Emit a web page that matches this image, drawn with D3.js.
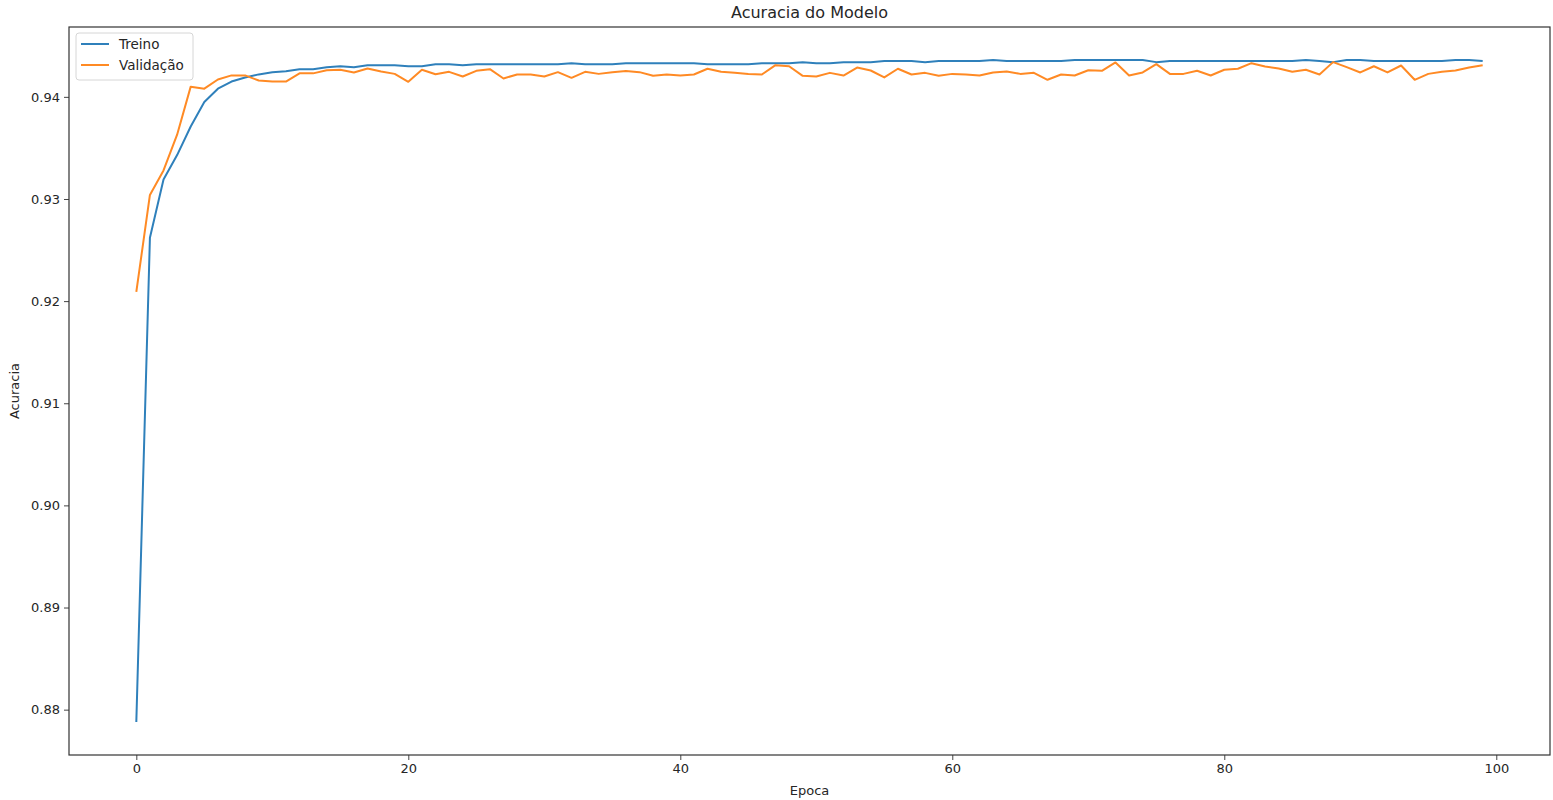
<!DOCTYPE html>
<html>
<head>
<meta charset="utf-8">
<script src="https://cdn.jsdelivr.net/npm/d3@7"></script>
<style>
    body { margin: 0; background: #fff; }
    text { font-family: "DejaVu Sans", sans-serif; fill: #262626; }
</style>
</head>
<body>
<div id="chart"></div>
<script>
// accuracy per epoch
const treino = [
    0.8788, 0.9262, 0.9319, 0.9343, 0.9371, 0.9395, 0.9408, 0.9415, 0.9419, 0.9422,
    0.9424, 0.9425, 0.9427, 0.9427, 0.9429, 0.9430, 0.9429, 0.9431, 0.9431, 0.9431,
    0.9430, 0.9430, 0.9432, 0.9432, 0.9431, 0.9432, 0.9432, 0.9432, 0.9432, 0.9432,
    0.9432, 0.9432, 0.9433, 0.9432, 0.9432, 0.9432, 0.9433, 0.9433, 0.9433, 0.9433,
    0.9433, 0.9433, 0.9432, 0.9432, 0.9432, 0.9432, 0.9433, 0.9433, 0.9433, 0.9434,
    0.9433, 0.9433, 0.9434, 0.9434, 0.9434, 0.9435, 0.9435, 0.9435, 0.9434, 0.9435,
    0.9435, 0.9435, 0.9435, 0.9436, 0.9435, 0.9435, 0.9435, 0.9435, 0.9435, 0.9436,
    0.9436, 0.9436, 0.9436, 0.9436, 0.9436, 0.9434, 0.9435, 0.9435, 0.9435, 0.9435,
    0.9435, 0.9435, 0.9435, 0.9435, 0.9435, 0.9435, 0.9436, 0.9435, 0.9434, 0.9436,
    0.9436, 0.9435, 0.9435, 0.9435, 0.9435, 0.9435, 0.9435, 0.9436, 0.9436, 0.9435
];
const validacao = [
    0.9209, 0.9304, 0.9328, 0.9363, 0.9410, 0.9408, 0.9417, 0.9421, 0.9421, 0.9416,
    0.9415, 0.9415, 0.9423, 0.9423, 0.9426, 0.94265, 0.94239, 0.94278, 0.94248, 0.94225,
    0.94147, 0.94265, 0.94222, 0.94245, 0.94199, 0.94255, 0.94271, 0.9418, 0.94219, 0.94219,
    0.94199, 0.94242, 0.94186, 0.94245, 0.94225, 0.94242, 0.94252, 0.94242, 0.94206, 0.94219,
    0.94209, 0.94219, 0.94275, 0.94245, 0.94235, 0.94225, 0.94219, 0.9431, 0.9430, 0.94206,
    0.94199, 0.94235, 0.94209, 0.94287, 0.94258, 0.9419, 0.94275, 0.94219, 0.94235, 0.94206,
    0.94225, 0.94219, 0.94209, 0.94239, 0.94248, 0.94225, 0.94235, 0.94167, 0.94219, 0.94209,
    0.94261, 0.94255, 0.94337, 0.94209, 0.94239, 0.9432, 0.94225, 0.94225, 0.94255, 0.94209,
    0.94265, 0.94275, 0.9433, 0.94297, 0.94278, 0.94245, 0.94265, 0.94219, 0.9434, 0.94291,
    0.94239, 0.9430, 0.94239, 0.94307, 0.94167, 0.94225, 0.94245, 0.94258, 0.94287, 0.9431
];
const series = [
    { name: "Treino", values: treino, color: "#2f80bb" },
    { name: "Validação", values: validacao, color: "#ff8a24" }
];
const xTicks = [0, 20, 40, 60, 80, 100];
const yTicks = [0.88, 0.89, 0.90, 0.91, 0.92, 0.93, 0.94];

const width = 1553, height = 800;
const margin = { top: 27, right: 3, bottom: 45, left: 69 };

const svg = d3.select("#chart").append("svg")
    .attr("width", width)
    .attr("height", height);

// matplotlib style 5% margins around the data
const n = treino.length;
const xPad = (n - 1) * 0.05;
const allVals = treino.concat(validacao);
const yMin = d3.min(allVals), yMax = d3.max(allVals);
const yPad = (yMax - yMin) * 0.05;

const x = d3.scaleLinear()
    .domain([-xPad, n - 1 + xPad])
    .range([margin.left, width - margin.right]);
const y = d3.scaleLinear()
    .domain([yMin - yPad, yMax + yPad])
    .range([height - margin.bottom, margin.top]);

const line = d3.line()
    .x((d, i) => x(i))
    .y(d => y(d));

series.forEach(s => {
    svg.append("path")
        .datum(s.values)
        .attr("fill", "none")
        .attr("stroke", s.color)
        .attr("stroke-width", 2)
        .attr("stroke-linejoin", "round")
        .attr("d", line);
});

// axes
const xAxis = svg.append("g")
    .attr("transform", `translate(0,${height - margin.bottom})`)
    .call(d3.axisBottom(x).tickValues(xTicks).tickFormat(d3.format("d")).tickSize(5).tickPadding(4));
const yAxis = svg.append("g")
    .attr("transform", `translate(${margin.left},0)`)
    .call(d3.axisLeft(y).tickValues(yTicks).tickFormat(d3.format(".2f")).tickSize(5).tickPadding(4));

[xAxis, yAxis].forEach(a => {
    a.select(".domain").remove();
    a.selectAll("line").attr("stroke", "#444");
    a.selectAll("text").style("font-size", "13px").attr("fill", "#333");
});

// frame
svg.append("rect")
    .attr("x", margin.left)
    .attr("y", margin.top)
    .attr("width", width - margin.left - margin.right)
    .attr("height", height - margin.top - margin.bottom)
    .attr("fill", "none")
    .attr("stroke", "#333")
    .attr("stroke-width", 1.2);

svg.append("text")
    .attr("x", (margin.left + width - margin.right) / 2)
    .attr("y", 18)
    .attr("text-anchor", "middle")
    .style("font-size", "16px")
    .text("Acuracia do Modelo");

svg.append("text")
    .attr("x", (margin.left + width - margin.right) / 2)
    .attr("y", 795)
    .attr("text-anchor", "middle")
    .style("font-size", "13px")
    .text("Epoca");

svg.append("text")
    .attr("transform", `translate(19,${(margin.top + height - margin.bottom) / 2}) rotate(-90)`)
    .attr("text-anchor", "middle")
    .style("font-size", "13px")
    .text("Acuracia");

// legend
const legend = svg.append("g").attr("transform", "translate(76,33)");
legend.append("rect")
    .attr("width", 117)
    .attr("height", 47)
    .attr("rx", 3)
    .attr("fill", "#fff")
    .attr("fill-opacity", 0.8)
    .attr("stroke", "#d6d6d6");

series.forEach((s, i) => {
    const g = legend.append("g").attr("transform", `translate(0,${11 + i * 21})`);
    g.append("line")
        .attr("x1", 5).attr("x2", 33)
        .attr("stroke", s.color)
        .attr("stroke-width", 2);
    g.append("text")
        .attr("x", 43)
        .attr("dy", "0.35em")
        .style("font-size", "13.5px")
        .text(s.name);
});
</script>
</body>
</html>
